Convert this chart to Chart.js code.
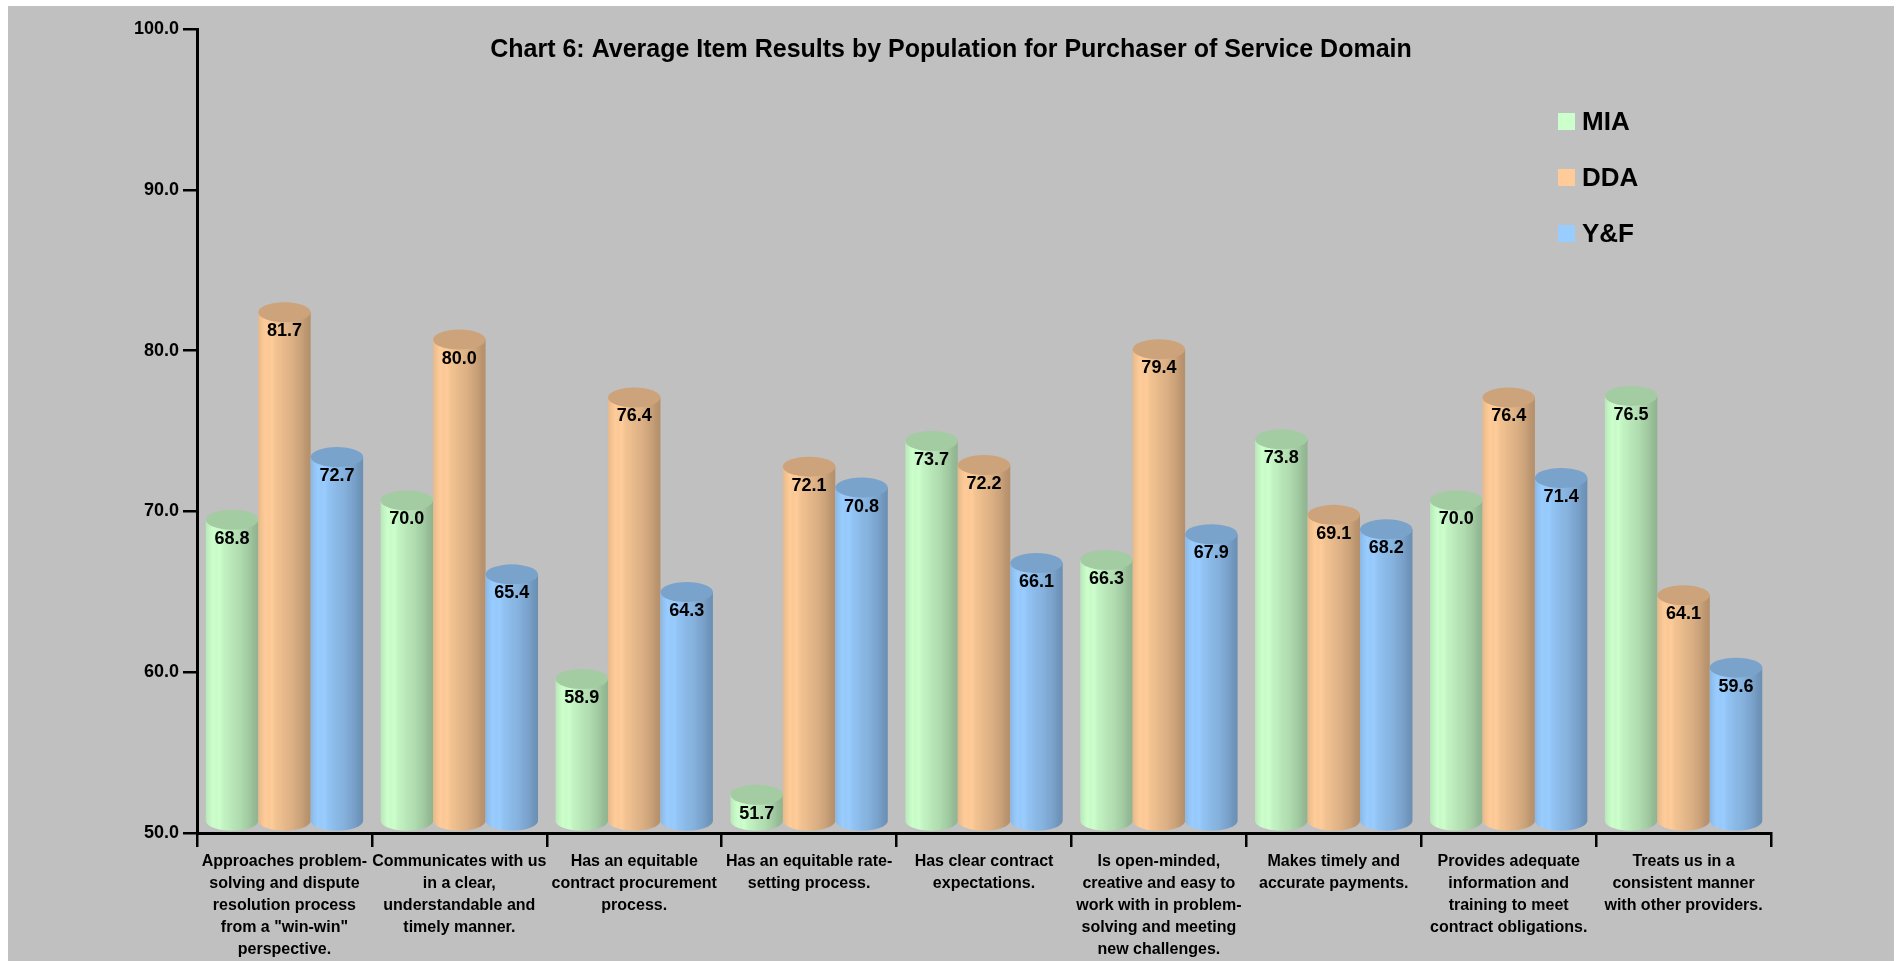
<!DOCTYPE html>
<html lang="en">
<head>
<meta charset="UTF-8">
<meta name="viewport" content="width=device-width, initial-scale=1.0">
<title>Chart 6</title>
<script src="https://cdn.jsdelivr.net/npm/chart.js@4.4.0/dist/chart.umd.min.js"></script>
<style>
  html, body { margin: 0; background: #fff; }
  #wrap { position: absolute; left: 8px; top: 6px; width: 1886px; height: 955px; background: #c0c0c0; }
</style>
</head>
<body>
<div id="wrap"><canvas id="chart"></canvas></div>
<script>
const chartTitle = 'Chart 6: Average Item Results by Population for Purchaser of Service Domain';
const items = [
  ['Approaches problem-', 'solving and dispute', 'resolution process', 'from a "win-win"', 'perspective.'],
  ['Communicates with us', 'in a clear,', 'understandable and', 'timely manner.'],
  ['Has an equitable', 'contract procurement', 'process.'],
  ['Has an equitable rate-', 'setting process.'],
  ['Has clear contract', 'expectations.'],
  ['Is open-minded,', 'creative and easy to', 'work with in problem-', 'solving and meeting', 'new challenges.'],
  ['Makes timely and', 'accurate payments.'],
  ['Provides adequate', 'information and', 'training to meet', 'contract obligations.'],
  ['Treats us in a', 'consistent manner', 'with other providers.']
];
const seriesNames = ['MIA', 'DDA', 'Y&F'];
const mia = [68.8, 70.0, 58.9, 51.7, 73.7, 66.3, 73.8, 70.0, 76.5];
const dda = [81.7, 80.0, 76.4, 72.1, 72.2, 79.4, 69.1, 76.4, 64.1];
const yf  = [72.7, 65.4, 64.3, 70.8, 66.1, 67.9, 68.2, 71.4, 59.6];
const yTicks = [50, 60, 70, 80, 90, 100];

const baseColors = [[204, 255, 204], [255, 204, 153], [153, 204, 255]];
const FONT = '"Liberation Sans", Arial, sans-serif';

function rgb(c, k) {
  return 'rgb(' + c.map(v => Math.max(0, Math.min(255, Math.round(v * k)))).join(',') + ')';
}

// lighting across a cylinder, left to right, with faint vertical banding
const shadeStops = [
  [0, 0.9], [0.06, 0.95], [0.14, 1.0], [0.2, 0.98], [0.26, 1.0], [0.34, 0.95],
  [0.42, 0.93], [0.5, 0.9], [0.58, 0.88], [0.66, 0.86], [0.72, 0.83], [0.8, 0.8],
  [0.86, 0.77], [0.9, 0.74], [0.95, 0.72], [1, 0.7]
];

const cylinders = {
  id: 'cylinders',
  afterDatasetsDraw(chart) {
    const ctx = chart.ctx;
    chart.data.datasets.forEach((ds, di) => {
      const meta = chart.getDatasetMeta(di);
      const c = baseColors[di];
      meta.data.forEach(bar => {
        const w = bar.width, x0 = bar.x - w / 2, rx = w / 2, ry = 10, lift = 11;
        const top = bar.y - lift, bot = bar.base - lift;
        const g = ctx.createLinearGradient(x0, 0, x0 + w, 0);
        shadeStops.forEach(s => g.addColorStop(s[0], rgb(c, s[1])));
        ctx.save();
        ctx.beginPath();
        ctx.moveTo(x0, top);
        ctx.lineTo(x0, bot);
        ctx.ellipse(bar.x, bot, rx, ry, 0, Math.PI, 0, true);
        ctx.lineTo(x0 + w, top);
        ctx.closePath();
        ctx.fillStyle = g;
        ctx.fill();
        ctx.beginPath();
        ctx.ellipse(bar.x, top, rx, ry, 0, 0, Math.PI * 2);
        ctx.fillStyle = rgb(c, 0.8);
        ctx.fill();
        ctx.restore();
      });
    });
    // value labels
    ctx.save();
    ctx.font = 'bold 18px ' + FONT;
    ctx.fillStyle = '#000';
    ctx.textAlign = 'center';
    ctx.textBaseline = 'middle';
    chart.data.datasets.forEach((ds, di) => {
      chart.getDatasetMeta(di).data.forEach((bar, i) => {
        ctx.fillText(ds.data[i].toFixed(1), bar.x, bar.y + 8);
      });
    });
    ctx.restore();
  },
  afterDraw(chart) {
    const ctx = chart.ctx;
    ctx.save();
    ctx.fillStyle = '#000';
    ctx.font = 'bold 25px ' + FONT;
    ctx.textAlign = 'center';
    ctx.textBaseline = 'middle';
    ctx.fillText(chartTitle, chart.width / 2, 44);
    // legend
    ctx.font = 'bold 26px ' + FONT;
    ctx.textAlign = 'left';
    chart.data.datasets.forEach((ds, di) => {
      const cy = 115.5 + di * 56;
      ctx.fillStyle = rgb(baseColors[di], 1);
      ctx.fillRect(1550, cy - 8.5, 17, 17);
      ctx.fillStyle = '#000';
      ctx.fillText(ds.label, 1574, cy + 1);
    });
    ctx.restore();
  }
};

new Chart(document.getElementById('chart'), {
  type: 'bar',
  data: {
    labels: items,
    datasets: [
      { label: seriesNames[0], data: mia },
      { label: seriesNames[1], data: dda },
      { label: seriesNames[2], data: yf }
    ].map(d => Object.assign(d, { base: 50, backgroundColor: 'rgba(0,0,0,0)', borderWidth: 0 }))
  },
  options: {
    responsive: true,
    maintainAspectRatio: false,
    animation: false,
    layout: { padding: { top: 23, right: 123, bottom: 0, left: 0 } },
    datasets: { bar: { categoryPercentage: 0.9, barPercentage: 1.0 } },
    plugins: {
      legend: { display: false },
      title: { display: false },
      tooltip: { enabled: false }
    },
    scales: {
      x: {
        grid: { display: true, drawOnChartArea: false, offset: true, tickLength: 14, color: '#000', lineWidth: 2.5 },
        border: { display: true, color: '#000', width: 3 },
        ticks: {
          color: '#000',
          font: { family: FONT, size: 16, weight: 'bold', lineHeight: 1.375 },
          maxRotation: 0, minRotation: 0, autoSkip: false, padding: 4
        },
        afterFit(s) { s.height = 128; }
      },
      y: {
        min: 50, max: 100,
        afterBuildTicks(s) { s.ticks = yTicks.map(v => ({ value: v })); },
        grid: { display: true, drawOnChartArea: false, tickLength: 14, color: '#000', lineWidth: 2.5 },
        border: { display: true, color: '#000', width: 3 },
        ticks: {
          color: '#000',
          font: { family: FONT, size: 18, weight: 'bold' },
          padding: 4,
          callback: v => Number(v).toFixed(1)
        },
        afterFit(s) { s.width = 189; }
      }
    }
  },
  plugins: [cylinders]
});
</script>
</body>
</html>
